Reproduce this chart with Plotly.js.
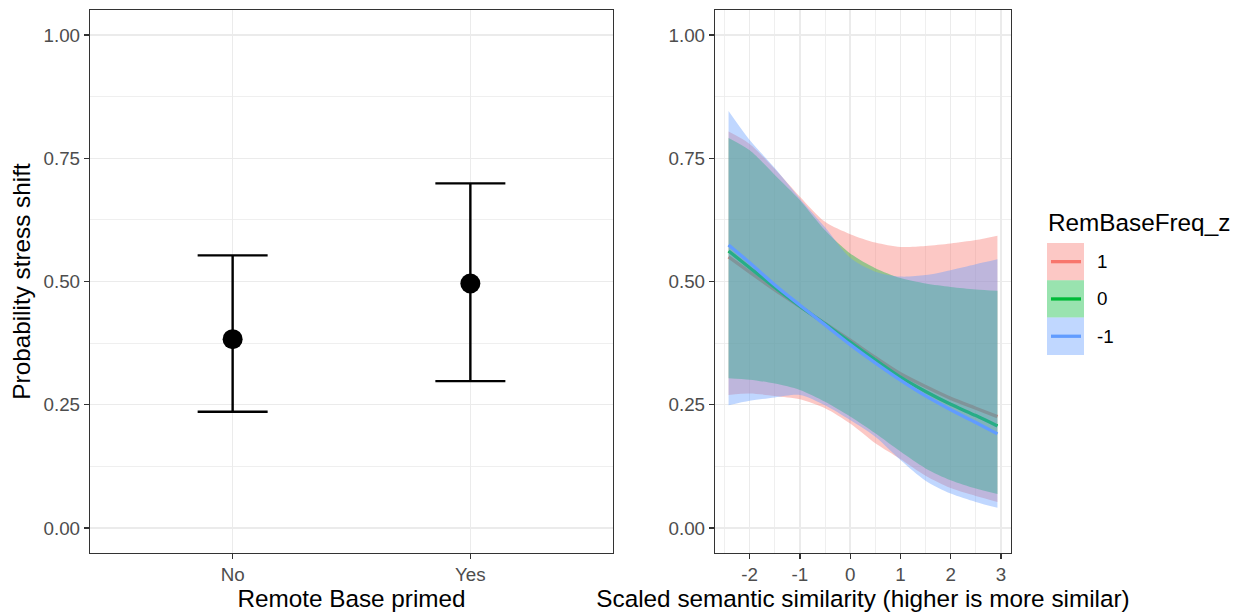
<!DOCTYPE html>
<html><head><meta charset="utf-8">
<script src="https://cdn.plot.ly/plotly-3.0.1.min.js"></script>
<style>html,body{margin:0;padding:0;background:#fff}#chart{width:1238px;height:614px}</style>
</head><body><div id="chart"></div>
<script>
// ---- Left panel data ----
const primedCats = ['No', 'Yes'];
const primedEst = [0.383, 0.496];
const primedLo = [0.236, 0.298];
const primedHi = [0.553, 0.699];

// ---- Right panel data ----
const simX = [-2.42, -2, -1.5, -1, -0.5, 0, 0.5, 1, 1.5, 2, 2.5, 2.93];
const freqLevels = ['1', '0', '-1'];
const freqColors = ['#F8766D', '#00BA38', '#619CFF'];
const freqFills = ['rgba(248,118,109,0.4)', 'rgba(0,186,56,0.4)', 'rgba(97,156,255,0.4)'];

const fitPos1 = [0.550, 0.519, 0.483, 0.449, 0.415, 0.381, 0.346, 0.313, 0.287, 0.263, 0.243, 0.226];
const loPos1  = [0.270, 0.273, 0.268, 0.261, 0.243, 0.212, 0.172, 0.140, 0.106, 0.081, 0.065, 0.053];
const hiPos1  = [0.804, 0.779, 0.728, 0.672, 0.621, 0.596, 0.579, 0.570, 0.572, 0.577, 0.584, 0.593];

const fitZero = [0.562, 0.528, 0.488, 0.450, 0.414, 0.377, 0.341, 0.306, 0.277, 0.251, 0.228, 0.207];
const loZero  = [0.304, 0.301, 0.293, 0.280, 0.256, 0.226, 0.192, 0.155, 0.121, 0.097, 0.080, 0.069];
const hiZero  = [0.791, 0.766, 0.716, 0.665, 0.604, 0.557, 0.527, 0.507, 0.496, 0.489, 0.484, 0.481];

const fitNeg1 = [0.574, 0.538, 0.493, 0.452, 0.412, 0.372, 0.335, 0.300, 0.268, 0.240, 0.214, 0.191];
const loNeg1  = [0.249, 0.258, 0.265, 0.270, 0.249, 0.219, 0.185, 0.138, 0.096, 0.070, 0.053, 0.041];
const hiNeg1  = [0.846, 0.787, 0.730, 0.668, 0.610, 0.548, 0.520, 0.510, 0.513, 0.523, 0.535, 0.545];

const simTicks = [-2, -1, 0, 1, 2, 3];
const simTickText = ['-2', '-1', '0', '1', '2', '3'];

const fits = [fitPos1, fitZero, fitNeg1];
const los = [loPos1, loZero, loNeg1];
const his = [hiPos1, hiZero, hiNeg1];

// ---- Geometry helpers (pixels -> paper) ----
const W = 1238, H = 614;
const px = p => p / W;
const py = p => 1 - p / H;

const FONT = '"Liberation Sans", Arial, sans-serif';
const TICKSIZE = 18.8, TITLESIZE = 24.3;

const traces = [];
traces.push({
  x: primedCats, y: primedEst, type: 'scatter', mode: 'markers',
  xaxis: 'x', yaxis: 'y',
  marker: {size: 20, color: '#000000'},
  error_y: {
    type: 'data', symmetric: false,
    array: primedHi.map((h, i) => h - primedEst[i]),
    arrayminus: primedLo.map((l, i) => primedEst[i] - l),
    width: 35, thickness: 2.4, color: '#000000'
  },
  showlegend: false, hoverinfo: 'skip'
});

for (let i = 0; i < freqLevels.length; i++) {
  traces.push({
    x: simX, y: los[i], type: 'scatter', mode: 'lines', xaxis: 'x2', yaxis: 'y2',
    line: {width: 0, shape: 'spline', smoothing: 0.8, color: freqFills[i]},
    showlegend: false, hoverinfo: 'skip'
  });
  traces.push({
    x: simX, y: his[i], type: 'scatter', mode: 'lines', xaxis: 'x2', yaxis: 'y2',
    fill: 'tonexty', fillcolor: freqFills[i],
    line: {width: 0, shape: 'spline', smoothing: 0.8, color: freqFills[i]},
    showlegend: false, hoverinfo: 'skip'
  });
  traces.push({
    x: simX, y: fits[i], type: 'scatter', mode: 'lines', xaxis: 'x2', yaxis: 'y2',
    line: {width: 3.3, shape: 'spline', smoothing: 0.8, color: freqColors[i]},
    name: freqLevels[i], showlegend: false, hoverinfo: 'skip'
  });
}

const gridCol = '#EBEBEB';
const baseAxis = {
  showgrid: true, gridcolor: gridCol, gridwidth: 1.4,
  showline: true, mirror: true, linecolor: '#333333', linewidth: 1.2,
  ticks: 'outside', ticklen: 5, tickwidth: 1.2, tickcolor: '#333333',
  tickfont: {family: FONT, size: TICKSIZE, color: '#4D4D4D'},
  zeroline: false, fixedrange: true, automargin: false
};
const yDomain = [1 - 552.7 / H, 1 - 10.3 / H];
const yAxisCommon = Object.assign({}, baseAxis, {
  domain: yDomain, range: [-0.05, 1.05], tick0: 0, dtick: 0.25, tickformat: '.2f',
  minor: {dtick: 0.125, tick0: 0, showgrid: true, gridcolor: gridCol, gridwidth: 0.8, ticks: ''}
});

const layout = {
  width: W, height: H,
  margin: {l: 0, r: 0, t: 0, b: 0},
  paper_bgcolor: '#ffffff', plot_bgcolor: '#ffffff',
  font: {family: FONT},
  showlegend: false,
  xaxis: Object.assign({}, baseAxis, {
    domain: [90 / W, 613 / W], anchor: 'y', type: 'category',
    range: [-0.6, 1.6],
    title: {text: 'Remote Base primed', font: {family: FONT, size: TITLESIZE, color: '#000000'}, standoff: 3}
  }),
  yaxis: Object.assign({}, yAxisCommon, {
    anchor: 'x',
    title: {text: 'Probability stress shift', font: {family: FONT, size: TITLESIZE, color: '#000000'}, standoff: 6}
  }),
  xaxis2: Object.assign({}, baseAxis, {
    domain: [715 / W, 1011 / W], anchor: 'y2',
    range: [-2.69, 3.2], tickvals: simTicks, ticktext: simTickText,
    minor: {dtick: 0.5, tick0: 0, showgrid: true, gridcolor: gridCol, gridwidth: 0.8, ticks: ''},
    title: {text: 'Scaled semantic similarity (higher is more similar)', font: {family: FONT, size: TITLESIZE, color: '#000000'}, standoff: 3}
  }),
  yaxis2: Object.assign({}, yAxisCommon, {anchor: 'x2'}),
  shapes: [],
  annotations: []
};

// ---- Manual legend (ggplot style keys) ----
layout.annotations.push({
  xref: 'paper', yref: 'paper', x: px(1046), y: py(223), xanchor: 'left', yanchor: 'middle',
  text: 'RemBaseFreq_z', showarrow: false,
  font: {family: FONT, size: TITLESIZE, color: '#000000'}
});
const keyTop = 243, keyH = 37.3;
for (let i = 0; i < freqLevels.length; i++) {
  const t = keyTop + i * keyH, b = t + keyH, m = (t + b) / 2;
  layout.shapes.push({
    type: 'rect', xref: 'paper', yref: 'paper',
    x0: px(1047), x1: px(1084), y0: py(b), y1: py(t),
    fillcolor: freqFills[i], line: {width: 0}, layer: 'above'
  });
  layout.shapes.push({
    type: 'line', xref: 'paper', yref: 'paper',
    x0: px(1051), x1: px(1081), y0: py(m), y1: py(m),
    line: {color: freqColors[i], width: 3.3}, layer: 'above'
  });
  layout.annotations.push({
    xref: 'paper', yref: 'paper', x: px(1095), y: py(m), xanchor: 'left', yanchor: 'middle',
    text: freqLevels[i], showarrow: false,
    font: {family: FONT, size: TICKSIZE, color: '#000000'}
  });
}

Plotly.newPlot('chart', traces, layout, {staticPlot: true, displayModeBar: false});
</script>
</body></html>
